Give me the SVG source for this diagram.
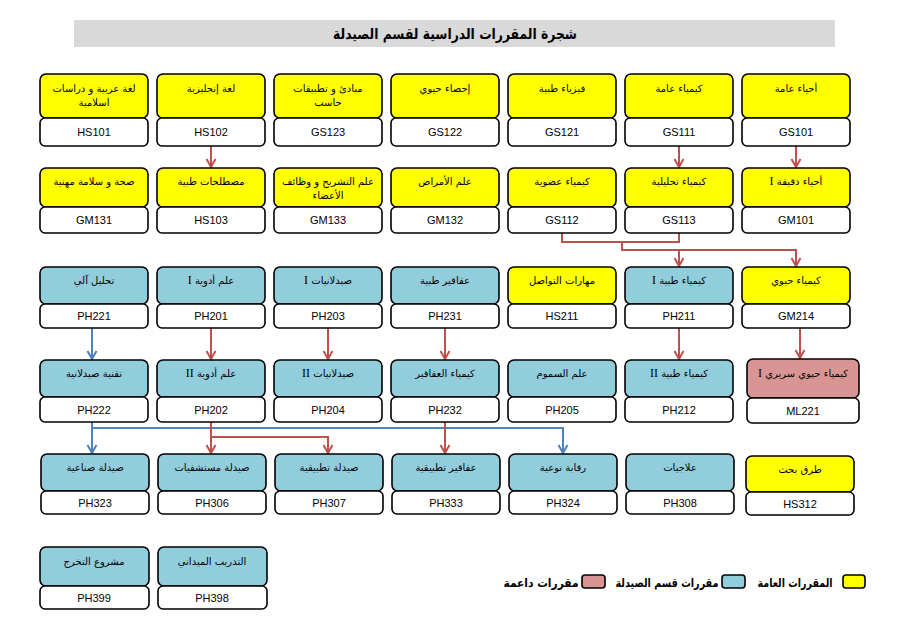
<svg xmlns="http://www.w3.org/2000/svg" width="904" height="630" viewBox="0 0 904 630">
<defs>
<style>
.t{stroke:#000;stroke-width:1.6}
.y{fill:#FFFF00}
.b{fill:#92CDDC}
.p{fill:#D99594}
.w{fill:#FFFFFF}
.ar{font-family:"DejaVu Sans","Noto Sans",sans-serif;font-size:10px;fill:#000;text-anchor:middle}
.rn{font-family:"Liberation Serif","Times New Roman",serif;font-size:12px}
.cd{font-family:"Liberation Sans",Arial,sans-serif;font-size:11px;fill:#000;text-anchor:middle}
.cr{fill:none;stroke:#C0504D;stroke-width:2}
.cb{fill:none;stroke:#4F81BD;stroke-width:2}
.lg{font-family:"DejaVu Sans","Noto Sans",sans-serif;font-size:12px;font-weight:bold;fill:#000}
</style>
<marker id="mr" markerUnits="userSpaceOnUse" viewBox="-1 -6 11 12" refX="8" refY="0" markerWidth="11" markerHeight="12" orient="auto">
<path d="M0,-4.5 L8,0 L0,4.5" fill="none" stroke="#C0504D" stroke-width="2"/>
</marker>
<marker id="mb" markerUnits="userSpaceOnUse" viewBox="-1 -6 11 12" refX="8" refY="0" markerWidth="11" markerHeight="12" orient="auto">
<path d="M0,-4.5 L8,0 L0,4.5" fill="none" stroke="#4F81BD" stroke-width="2"/>
</marker>
</defs>
<rect width="904" height="630" fill="#fff"/>
<rect x="74" y="20" width="761" height="27" fill="#D9D9D9"/>
<text x="455" y="39" direction="rtl" textLength="244" lengthAdjust="spacingAndGlyphs" style="font-family:'DejaVu Sans',sans-serif;font-size:15px;font-weight:bold;text-anchor:middle">شجرة المقررات الدراسية لقسم الصيدلة</text>

<g id="connectors">
<path class="cr" d="M211,146 V167" marker-end="url(#mr)"/>
<path class="cr" d="M679,146 V167" marker-end="url(#mr)"/>
<path class="cr" d="M796,146 V167" marker-end="url(#mr)"/>
<path class="cr" d="M562,233 V242 H679 V233"/>
<path class="cr" d="M622,242 V250 H796 V266" marker-end="url(#mr)"/>
<path class="cr" d="M679,250 V266" marker-end="url(#mr)"/>
<path class="cb" d="M92,328 V359" marker-end="url(#mb)"/>
<path class="cr" d="M211,328 V359" marker-end="url(#mr)"/>
<path class="cr" d="M328,328 V359" marker-end="url(#mr)"/>
<path class="cr" d="M445,328 V359" marker-end="url(#mr)"/>
<path class="cr" d="M679,328 V359" marker-end="url(#mr)"/>
<path class="cr" d="M800,328 V358" marker-end="url(#mr)"/>
<path class="cb" d="M92,422 V453" marker-end="url(#mb)"/>
<path class="cb" d="M92,428 H563 V453" marker-end="url(#mb)"/>
<path class="cr" d="M211,422 V453" marker-end="url(#mr)"/>
<path class="cr" d="M211,437 H328 V453" marker-end="url(#mr)"/>
<path class="cr" d="M445,422 V453" marker-end="url(#mr)"/>
</g>

<!-- Row 1 -->
<g id="HS101"><rect class="t y" x="40" y="74" width="108" height="44" rx="6"/><rect class="t w" x="40" y="118" width="108" height="28" rx="5"/><text class="ar" x="94" y="92" direction="rtl">لغة عربية و دراسات</text><text class="ar" x="94" y="106" direction="rtl">اسلامية</text><text class="cd" x="94" y="136">HS101</text></g>
<g id="HS102"><rect class="t y" x="157" y="74" width="108" height="44" rx="6"/><rect class="t w" x="157" y="118" width="108" height="28" rx="5"/><text class="ar" x="211" y="92" direction="rtl">لغة إنجليزية</text><text class="cd" x="211" y="136">HS102</text></g>
<g id="GS123"><rect class="t y" x="274" y="74" width="108" height="44" rx="6"/><rect class="t w" x="274" y="118" width="108" height="28" rx="5"/><text class="ar" x="328" y="92" direction="rtl">مبادئ و تطبيقات</text><text class="ar" x="328" y="106" direction="rtl">حاسب</text><text class="cd" x="328" y="136">GS123</text></g>
<g id="GS122"><rect class="t y" x="391" y="74" width="108" height="44" rx="6"/><rect class="t w" x="391" y="118" width="108" height="28" rx="5"/><text class="ar" x="445" y="92" direction="rtl">إحصاء حيوي</text><text class="cd" x="445" y="136">GS122</text></g>
<g id="GS121"><rect class="t y" x="508" y="74" width="108" height="44" rx="6"/><rect class="t w" x="508" y="118" width="108" height="28" rx="5"/><text class="ar" x="562" y="92" direction="rtl">فيزياء طبية</text><text class="cd" x="562" y="136">GS121</text></g>
<g id="GS111"><rect class="t y" x="625" y="74" width="108" height="44" rx="6"/><rect class="t w" x="625" y="118" width="108" height="28" rx="5"/><text class="ar" x="679" y="92" direction="rtl">كيمياء عامة</text><text class="cd" x="679" y="136">GS111</text></g>
<g id="GS101"><rect class="t y" x="742" y="74" width="108" height="44" rx="6"/><rect class="t w" x="742" y="118" width="108" height="28" rx="5"/><text class="ar" x="796" y="92" direction="rtl">أحياء عامة</text><text class="cd" x="796" y="136">GS101</text></g>

<!-- Row 2 -->
<g id="GM131"><rect class="t y" x="40" y="168" width="108" height="39" rx="6"/><rect class="t w" x="40" y="207" width="108" height="26" rx="5"/><text class="ar" x="94" y="185" direction="rtl">صحة و سلامة مهنية</text><text class="cd" x="94" y="224">GM131</text></g>
<g id="HS103"><rect class="t y" x="157" y="168" width="108" height="39" rx="6"/><rect class="t w" x="157" y="207" width="108" height="26" rx="5"/><text class="ar" x="211" y="185" direction="rtl">مصطلحات طبية</text><text class="cd" x="211" y="224">HS103</text></g>
<g id="GM133"><rect class="t y" x="274" y="168" width="108" height="39" rx="6"/><rect class="t w" x="274" y="207" width="108" height="26" rx="5"/><text class="ar" x="328" y="185" direction="rtl">علم التشريح و وظائف</text><text class="ar" x="328" y="199" direction="rtl">الأعضاء</text><text class="cd" x="328" y="224">GM133</text></g>
<g id="GM132"><rect class="t y" x="391" y="168" width="108" height="39" rx="6"/><rect class="t w" x="391" y="207" width="108" height="26" rx="5"/><text class="ar" x="445" y="185" direction="rtl">علم الأمراض</text><text class="cd" x="445" y="224">GM132</text></g>
<g id="GS112"><rect class="t y" x="508" y="168" width="108" height="39" rx="6"/><rect class="t w" x="508" y="207" width="108" height="26" rx="5"/><text class="ar" x="562" y="185" direction="rtl">كيمياء عضوية</text><text class="cd" x="562" y="224">GS112</text></g>
<g id="GS113"><rect class="t y" x="625" y="168" width="108" height="39" rx="6"/><rect class="t w" x="625" y="207" width="108" height="26" rx="5"/><text class="ar" x="679" y="185" direction="rtl">كيمياء تحليلية</text><text class="cd" x="679" y="224">GS113</text></g>
<g id="GM101"><rect class="t y" x="742" y="168" width="108" height="39" rx="6"/><rect class="t w" x="742" y="207" width="108" height="26" rx="5"/><text class="ar" x="796" y="185" direction="rtl">أحياء دقيقة <tspan class="rn">I</tspan></text><text class="cd" x="796" y="224">GM101</text></g>

<!-- Row 3 -->
<g id="PH221"><rect class="t b" x="40" y="267" width="108" height="37" rx="6"/><rect class="t w" x="40" y="304" width="108" height="24" rx="5"/><text class="ar" x="94" y="284" direction="rtl">تحليل آلي</text><text class="cd" x="94" y="320">PH221</text></g>
<g id="PH201"><rect class="t b" x="157" y="267" width="108" height="37" rx="6"/><rect class="t w" x="157" y="304" width="108" height="24" rx="5"/><text class="ar" x="211" y="284" direction="rtl">علم أدوية <tspan class="rn">I</tspan></text><text class="cd" x="211" y="320">PH201</text></g>
<g id="PH203"><rect class="t b" x="274" y="267" width="108" height="37" rx="6"/><rect class="t w" x="274" y="304" width="108" height="24" rx="5"/><text class="ar" x="328" y="284" direction="rtl">صيدلانيات <tspan class="rn">I</tspan></text><text class="cd" x="328" y="320">PH203</text></g>
<g id="PH231"><rect class="t b" x="391" y="267" width="108" height="37" rx="6"/><rect class="t w" x="391" y="304" width="108" height="24" rx="5"/><text class="ar" x="445" y="284" direction="rtl">عقاقير طبية</text><text class="cd" x="445" y="320">PH231</text></g>
<g id="HS211"><rect class="t y" x="508" y="267" width="108" height="37" rx="6"/><rect class="t w" x="508" y="304" width="108" height="24" rx="5"/><text class="ar" x="562" y="284" direction="rtl">مهارات التواصل</text><text class="cd" x="562" y="320">HS211</text></g>
<g id="PH211"><rect class="t b" x="625" y="267" width="108" height="37" rx="6"/><rect class="t w" x="625" y="304" width="108" height="24" rx="5"/><text class="ar" x="679" y="284" direction="rtl">كيمياء طبية <tspan class="rn">I</tspan></text><text class="cd" x="679" y="320">PH211</text></g>
<g id="GM214"><rect class="t y" x="742" y="267" width="108" height="37" rx="6"/><rect class="t w" x="742" y="304" width="108" height="24" rx="5"/><text class="ar" x="796" y="284" direction="rtl">كيمياء حيوي</text><text class="cd" x="796" y="320">GM214</text></g>

<!-- Row 4 -->
<g id="PH222"><rect class="t b" x="40" y="360" width="108" height="37" rx="6"/><rect class="t w" x="40" y="397" width="108" height="25" rx="5"/><text class="ar" x="94" y="377" direction="rtl">تقنية صيدلانية</text><text class="cd" x="94" y="414">PH222</text></g>
<g id="PH202"><rect class="t b" x="157" y="360" width="108" height="37" rx="6"/><rect class="t w" x="157" y="397" width="108" height="25" rx="5"/><text class="ar" x="211" y="377" direction="rtl">علم أدوية <tspan class="rn">II</tspan></text><text class="cd" x="211" y="414">PH202</text></g>
<g id="PH204"><rect class="t b" x="274" y="360" width="108" height="37" rx="6"/><rect class="t w" x="274" y="397" width="108" height="25" rx="5"/><text class="ar" x="328" y="377" direction="rtl">صيدلانيات <tspan class="rn">II</tspan></text><text class="cd" x="328" y="414">PH204</text></g>
<g id="PH232"><rect class="t b" x="391" y="360" width="108" height="37" rx="6"/><rect class="t w" x="391" y="397" width="108" height="25" rx="5"/><text class="ar" x="445" y="377" direction="rtl">كيمياء العقاقير</text><text class="cd" x="445" y="414">PH232</text></g>
<g id="PH205"><rect class="t b" x="508" y="360" width="108" height="37" rx="6"/><rect class="t w" x="508" y="397" width="108" height="25" rx="5"/><text class="ar" x="562" y="377" direction="rtl">علم السموم</text><text class="cd" x="562" y="414">PH205</text></g>
<g id="PH212"><rect class="t b" x="625" y="360" width="108" height="37" rx="6"/><rect class="t w" x="625" y="397" width="108" height="25" rx="5"/><text class="ar" x="679" y="377" direction="rtl">كيمياء طبية <tspan class="rn">II</tspan></text><text class="cd" x="679" y="414">PH212</text></g>
<g id="ML221"><rect class="t p" x="747" y="359" width="112" height="39" rx="6"/><rect class="t w" x="747" y="398" width="112" height="25" rx="5"/><text class="ar" x="803" y="377" direction="rtl">كيمياء حيوي سريري <tspan class="rn">I</tspan></text><text class="cd" x="803" y="415">ML221</text></g>

<!-- Row 5 -->
<g id="PH323"><rect class="t b" x="41" y="454" width="108" height="37" rx="6"/><rect class="t w" x="41" y="491" width="108" height="23" rx="5"/><text class="ar" x="95" y="471" direction="rtl">صيدلة صناعية</text><text class="cd" x="95" y="507">PH323</text></g>
<g id="PH306"><rect class="t b" x="158" y="454" width="108" height="37" rx="6"/><rect class="t w" x="158" y="491" width="108" height="23" rx="5"/><text class="ar" x="212" y="471" direction="rtl">صيدلة مستشفيات</text><text class="cd" x="212" y="507">PH306</text></g>
<g id="PH307"><rect class="t b" x="275" y="454" width="108" height="37" rx="6"/><rect class="t w" x="275" y="491" width="108" height="23" rx="5"/><text class="ar" x="329" y="471" direction="rtl">صيدلة تطبيقية</text><text class="cd" x="329" y="507">PH307</text></g>
<g id="PH333"><rect class="t b" x="392" y="454" width="108" height="37" rx="6"/><rect class="t w" x="392" y="491" width="108" height="23" rx="5"/><text class="ar" x="446" y="471" direction="rtl">عقاقير تطبيقية</text><text class="cd" x="446" y="507">PH333</text></g>
<g id="PH324"><rect class="t b" x="509" y="454" width="108" height="37" rx="6"/><rect class="t w" x="509" y="491" width="108" height="23" rx="5"/><text class="ar" x="563" y="471" direction="rtl">رقابة نوعية</text><text class="cd" x="563" y="507">PH324</text></g>
<g id="PH308"><rect class="t b" x="626" y="454" width="108" height="37" rx="6"/><rect class="t w" x="626" y="491" width="108" height="23" rx="5"/><text class="ar" x="680" y="471" direction="rtl">علاجيات</text><text class="cd" x="680" y="507">PH308</text></g>
<g id="HS312"><rect class="t y" x="746" y="456" width="108" height="36" rx="6"/><rect class="t w" x="746" y="492" width="108" height="23" rx="5"/><text class="ar" x="800" y="473" direction="rtl">طرق بحث</text><text class="cd" x="800" y="508">HS312</text></g>

<!-- Row 6 -->
<g id="PH399"><rect class="t b" x="40" y="547" width="109" height="39" rx="6"/><rect class="t w" x="40" y="586" width="109" height="23" rx="5"/><text class="ar" x="94" y="565" direction="rtl">مشروع التخرج</text><text class="cd" x="94" y="602">PH399</text></g>
<g id="PH398"><rect class="t b" x="158" y="547" width="109" height="39" rx="6"/><rect class="t w" x="158" y="586" width="109" height="23" rx="5"/><text class="ar" x="212" y="565" direction="rtl">التدريب الميداني</text><text class="cd" x="212" y="602">PH398</text></g>

<!-- Legend -->
<g id="legend">
<rect class="t y" x="843" y="575" width="22" height="13" rx="3"/>
<text class="lg" x="795" y="587" direction="rtl" text-anchor="middle" textLength="75" lengthAdjust="spacingAndGlyphs">المقررات العامة</text>
<rect class="t b" x="722" y="575" width="23" height="13" rx="3"/>
<text class="lg" x="667" y="587" direction="rtl" text-anchor="middle" textLength="103" lengthAdjust="spacingAndGlyphs">مقررات قسم الصيدلة</text>
<rect class="t p" x="582" y="575" width="23" height="13" rx="3"/>
<text class="lg" x="541" y="587" direction="rtl" text-anchor="middle" textLength="75" lengthAdjust="spacingAndGlyphs">مقررات داعمة</text>
</g>
</svg>
